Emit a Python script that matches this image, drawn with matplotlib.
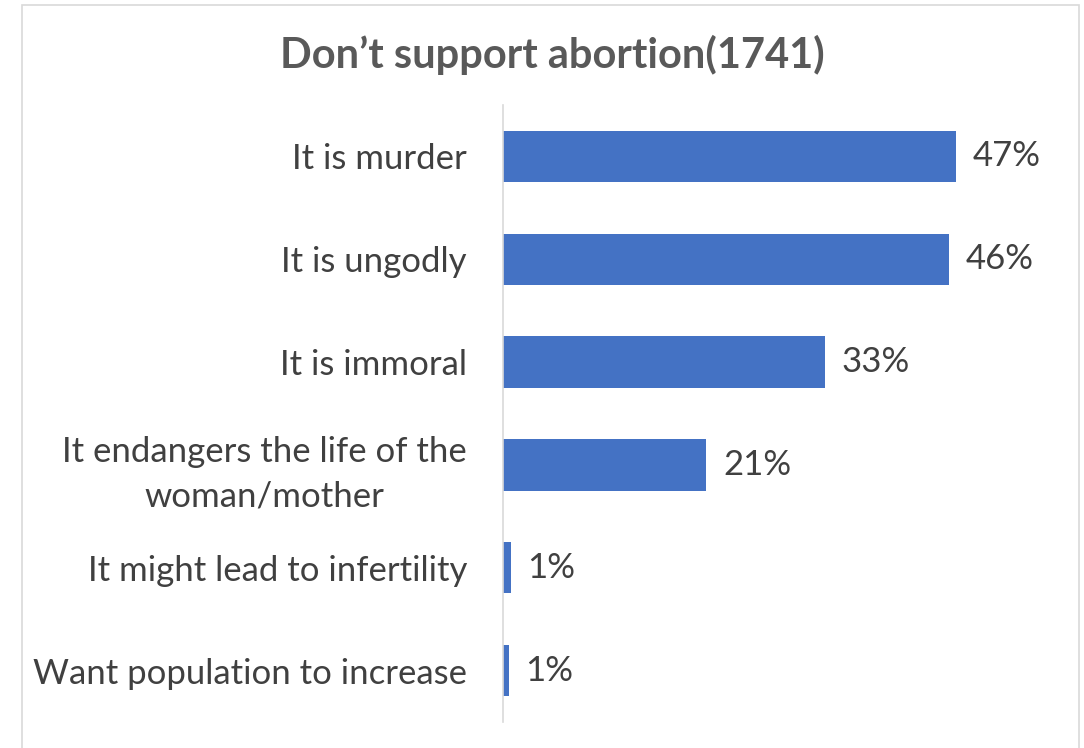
import matplotlib
matplotlib.use("Agg")
import matplotlib.pyplot as plt
from matplotlib.patches import Rectangle

categories = [
    "It is murder",
    "It is ungodly",
    "It is immoral",
    "It endangers the life of the\nwoman/mother",
    "It might lead to infertility",
    "Want population to increase",
]
values = [47, 46.3, 33.4, 21.1, 0.8, 0.6]
title = "Don\u2019t support abortion(1741)"

plt.rcParams['font.family'] = ['Lato', 'DejaVu Sans']

W, H = 1084, 748
fig = plt.figure(figsize=(W / 100, H / 100), dpi=100)

# light outer frame like the Excel chart area
fig.patches.append(Rectangle((22 / W, -0.05), (1079 - 22) / W, 1.05 - 5 / H,
                             transform=fig.transFigure, fill=False,
                             edgecolor='#D9D9D9', linewidth=1.2, clip_on=False))

ax = fig.add_axes([503 / W, 1 - 722 / H, 530 / W, (722 - 105) / H])
y = list(range(len(categories)))
ax.barh(y, values, height=0.5, color='#4472C4')
ax.set_xlim(0, 55)
ax.set_ylim(len(categories) - 0.5, -0.5)

ax.set_yticks(y)
ax.set_yticklabels(categories, fontsize=25, color='#404040',
                   multialignment='center', linespacing=1.5)
ax.tick_params(axis='y', length=0, pad=26)
ax.set_xticks([])

for s in ['top', 'right', 'bottom']:
    ax.spines[s].set_visible(False)
ax.spines['left'].set_color('#D9D9D9')
ax.spines['left'].set_linewidth(1.2)

for yi, v in zip(y, values):
    ax.annotate(f"{round(v)}%", (v, yi), xytext=(12, 0), textcoords='offset points',
                va='center', ha='left', fontsize=25, color='#404040')

fig.text(552 / W, 1 - 55 / H, title, ha='center', va='center',
         fontsize=30, fontweight='bold', color='#595959')

fig.savefig('out.png', dpi=100, facecolor='white')
